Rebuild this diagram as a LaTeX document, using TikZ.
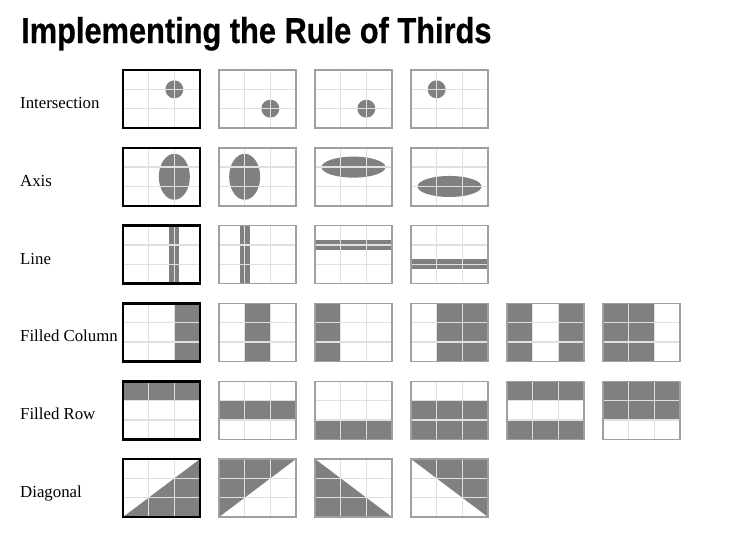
\documentclass[tikz,border=0pt]{standalone}
\usepackage{fontspec}
\usepackage{graphicx}
\setmainfont{Liberation Serif}
\newfontfamily\titlefont{Liberation Sans}[FakeStretch=0.855,FakeBold=0.6]
\definecolor{fillc}{HTML}{808080}
\definecolor{gridc}{HTML}{E0E0E0}
\definecolor{framec}{HTML}{A0A0A0}
\tikzset{
  gridline/.style={draw=gridc, line width=1.3pt},
  frameA/.style={draw=black, line width=2.6pt},
  frameB/.style={draw=framec, line width=1.4pt},
  shade/.style={fill=fillc},
  lbl/.style={anchor=base west, inner sep=0pt, font=\fontsize{16.8}{20}\selectfont},
}
% #1 column, #2 row, #3 border style, #4 fill code
\newcommand\rtframe[4]{%
  \begin{scope}[shift={(123+96*#1, 70+77.8*#2)}, x=77pt, y=-58pt]
    #4
    \draw[gridline] (1/3,0)--(1/3,1) (2/3,0)--(2/3,1) (0,1/3)--(1,1/3) (0,2/3)--(1,2/3);
    \draw[#3] (0,0) rectangle (1,1);
  \end{scope}}
\begin{document}
\begin{tikzpicture}[x=1pt, y=-1pt]
\useasboundingbox (0,0) rectangle (746,539);
\node[anchor=base west, inner sep=0pt] (title) at (21,43)
  {\titlefont\bfseries\fontsize{36}{40}\selectfont Implementing the Rule of Thirds};

\node[lbl] (l1) at (20,108.5) {Intersection};
\node[lbl] (l2) at (20,186.3) {Axis};
\node[lbl] (l3) at (20,264.1) {Line};
\node[lbl] (l4) at (20,341.9) {Filled Column};
\node[lbl] (l5) at (20,419.7) {Filled Row};
\node[lbl] (l6) at (20,497.5) {Diagonal};

% Row 0: Intersection
\rtframe{0}{0}{frameA}{\fill[shade] (2/3,1/3) circle [radius=9pt];}
\rtframe{1}{0}{frameB}{\fill[shade] (2/3,2/3) circle [radius=9pt];}
\rtframe{2}{0}{frameB}{\fill[shade] (2/3,2/3) circle [radius=9pt];}
\rtframe{3}{0}{frameB}{\fill[shade] (1/3,1/3) circle [radius=9pt];}

% Row 1: Axis
\rtframe{0}{1}{frameA}{\fill[shade] (2/3,1/2) ellipse [x radius=15.5pt, y radius=23pt];}
\rtframe{1}{1}{frameB}{\fill[shade] (1/3,1/2) ellipse [x radius=15.5pt, y radius=23pt];}
\rtframe{2}{1}{frameB}{\fill[shade] (1/2,1/3) ellipse [x radius=32pt, y radius=10.5pt];}
\rtframe{3}{1}{frameB}{\fill[shade] (1/2,2/3) ellipse [x radius=32pt, y radius=10.5pt];}

% Row 2: Line
\rtframe{0}{2}{frameA}{\fill[shade] (2/3-0.065,0) rectangle (2/3+0.065,1);}
\rtframe{1}{2}{frameB}{\fill[shade] (1/3-0.065,0) rectangle (1/3+0.065,1);}
\rtframe{2}{2}{frameB}{\fill[shade] (0,1/3-0.088) rectangle (1,1/3+0.088);}
\rtframe{3}{2}{frameB}{\fill[shade] (0,2/3-0.088) rectangle (1,2/3+0.088);}

% Row 3: Filled Column
\rtframe{0}{3}{frameA}{\fill[shade] (2/3,0) rectangle (1,1);}
\rtframe{1}{3}{frameB}{\fill[shade] (1/3,0) rectangle (2/3,1);}
\rtframe{2}{3}{frameB}{\fill[shade] (0,0) rectangle (1/3,1);}
\rtframe{3}{3}{frameB}{\fill[shade] (1/3,0) rectangle (1,1);}
\rtframe{4}{3}{frameB}{\fill[shade] (0,0) rectangle (1/3,1) (2/3,0) rectangle (1,1);}
\rtframe{5}{3}{frameB}{\fill[shade] (0,0) rectangle (2/3,1);}

% Row 4: Filled Row
\rtframe{0}{4}{frameA}{\fill[shade] (0,0) rectangle (1,1/3);}
\rtframe{1}{4}{frameB}{\fill[shade] (0,1/3) rectangle (1,2/3);}
\rtframe{2}{4}{frameB}{\fill[shade] (0,2/3) rectangle (1,1);}
\rtframe{3}{4}{frameB}{\fill[shade] (0,1/3) rectangle (1,1);}
\rtframe{4}{4}{frameB}{\fill[shade] (0,0) rectangle (1,1/3) (0,2/3) rectangle (1,1);}
\rtframe{5}{4}{frameB}{\fill[shade] (0,0) rectangle (1,2/3);}

% Row 5: Diagonal
\rtframe{0}{5}{frameA}{\fill[shade] (0,1) -- (1,1) -- (1,0) -- cycle;}
\rtframe{1}{5}{frameB}{\fill[shade] (0,1) -- (0,0) -- (1,0) -- cycle;}
\rtframe{2}{5}{frameB}{\fill[shade] (0,0) -- (0,1) -- (1,1) -- cycle;}
\rtframe{3}{5}{frameB}{\fill[shade] (0,0) -- (1,0) -- (1,1) -- cycle;}
\end{tikzpicture}
\end{document}
